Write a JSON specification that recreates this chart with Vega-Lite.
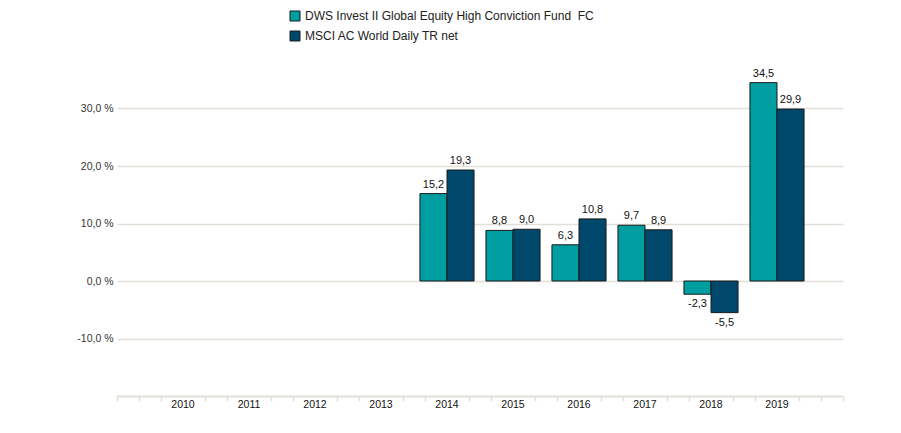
{
  "$schema": "https://vega.github.io/schema/vega-lite/v6.json",
  "width": 726,
  "height": 345,
  "autosize": "none",
  "padding": {"left": 117, "top": 51, "right": 58, "bottom": 37},
  "background": "white",
  "config": {
    "view": {"stroke": null},
    "font": "Liberation Sans",
    "locale": {"number": {"decimal": ",", "thousands": ".", "grouping": [3], "currency": ["", " €"], "minus": "-"}}
  },
  "data": {
    "values": [
      {"year": "2014", "series": "DWS Invest II Global Equity High Conviction Fund\u00a0 FC", "value": 15.2},
      {"year": "2014", "series": "MSCI AC World Daily TR net", "value": 19.3},
      {"year": "2015", "series": "DWS Invest II Global Equity High Conviction Fund\u00a0 FC", "value": 8.8},
      {"year": "2015", "series": "MSCI AC World Daily TR net", "value": 9.0},
      {"year": "2016", "series": "DWS Invest II Global Equity High Conviction Fund\u00a0 FC", "value": 6.3},
      {"year": "2016", "series": "MSCI AC World Daily TR net", "value": 10.8},
      {"year": "2017", "series": "DWS Invest II Global Equity High Conviction Fund\u00a0 FC", "value": 9.7},
      {"year": "2017", "series": "MSCI AC World Daily TR net", "value": 8.9},
      {"year": "2018", "series": "DWS Invest II Global Equity High Conviction Fund\u00a0 FC", "value": -2.3},
      {"year": "2018", "series": "MSCI AC World Daily TR net", "value": -5.5},
      {"year": "2019", "series": "DWS Invest II Global Equity High Conviction Fund\u00a0 FC", "value": 34.5},
      {"year": "2019", "series": "MSCI AC World Daily TR net", "value": 29.9}
    ]
  },
  "resolve": {"scale": {"x": "independent"}, "axis": {"x": "independent"}},
  "layer": [
    {
      "layer": [
        {
          "mark": {"type": "bar", "stroke": "#1a1a1a", "strokeWidth": 1},
          "encoding": {
            "x": {
              "field": "year", "type": "nominal",
              "scale": {"domain": ["2010","2011","2012","2013","2014","2015","2016","2017","2018","2019"], "paddingInner": 0.18, "paddingOuter": 0.59},
              "axis": {"title": null, "labelAngle": 0, "ticks": false, "domainColor": "#e2dfd8", "domainWidth": 2, "labelFontSize": 10.5, "labelColor": "#111", "labelPadding": 3, "grid": false}
            },
            "xOffset": {"field": "series", "type": "nominal", "sort": ["DWS Invest II Global Equity High Conviction Fund\u00a0 FC", "MSCI AC World Daily TR net"], "scale": {"paddingInner": 0, "paddingOuter": 0}},
            "y": {
              "field": "value", "type": "quantitative",
              "scale": {"domain": [-20, 40], "nice": false},
              "axis": {"title": null, "values": [-10, 0, 10, 20, 30], "labelExpr": "format(datum.value, '.1f') + ' %'", "domain": false, "ticks": false, "gridColor": "#e2dfd8", "gridWidth": 1.5, "labelFontSize": 10.5, "labelColor": "#333", "labelPadding": 4}
            },
            "color": {
              "field": "series", "type": "nominal",
              "sort": ["DWS Invest II Global Equity High Conviction Fund\u00a0 FC", "MSCI AC World Daily TR net"],
              "scale": {"range": ["#009ea0", "#00486b"]},
              "legend": {"title": null, "orient": "none", "legendX": 172, "legendY": -41, "symbolType": "square", "symbolSize": 100, "symbolStrokeColor": "#1a1a1a", "symbolStrokeWidth": 1, "labelFontSize": 12, "labelColor": "#222", "rowPadding": 6, "labelLimit": 400, "symbolOpacity": 1}
            }
          }
        },
        {
          "transform": [{"filter": "datum.value >= 0"}],
          "mark": {"type": "text", "baseline": "bottom", "dy": -4, "fontSize": 11, "color": "#111"},
          "encoding": {
            "x": {"field": "year", "type": "nominal"},
            "xOffset": {"field": "series", "type": "nominal", "sort": ["DWS Invest II Global Equity High Conviction Fund\u00a0 FC", "MSCI AC World Daily TR net"]},
            "y": {"field": "value", "type": "quantitative"},
            "text": {"field": "value", "type": "quantitative", "format": ".1f"}
          }
        },
        {
          "transform": [{"filter": "datum.value < 0"}],
          "mark": {"type": "text", "baseline": "top", "dy": 4, "fontSize": 11, "color": "#111"},
          "encoding": {
            "x": {"field": "year", "type": "nominal"},
            "xOffset": {"field": "series", "type": "nominal", "sort": ["DWS Invest II Global Equity High Conviction Fund\u00a0 FC", "MSCI AC World Daily TR net"]},
            "y": {"field": "value", "type": "quantitative"},
            "text": {"field": "value", "type": "quantitative", "format": ".1f"}
          }
        }
      ]
    },
    {
      "mark": {"type": "point", "opacity": 0},
      "encoding": {
        "x": {
          "datum": 0, "type": "quantitative",
          "scale": {"domain": [0, 33], "nice": false, "zero": false},
          "axis": {"orient": "bottom", "title": null, "values": [0,1,2,4,5,7,8,10,11,13,14,16,17,19,20,22,23,25,26,28,29,31,32,33], "labels": false, "domain": false, "grid": false, "ticks": true, "tickSize": 5, "tickColor": "#e2dfd8", "tickWidth": 1.5}
        }
      }
    }
  ]
}
